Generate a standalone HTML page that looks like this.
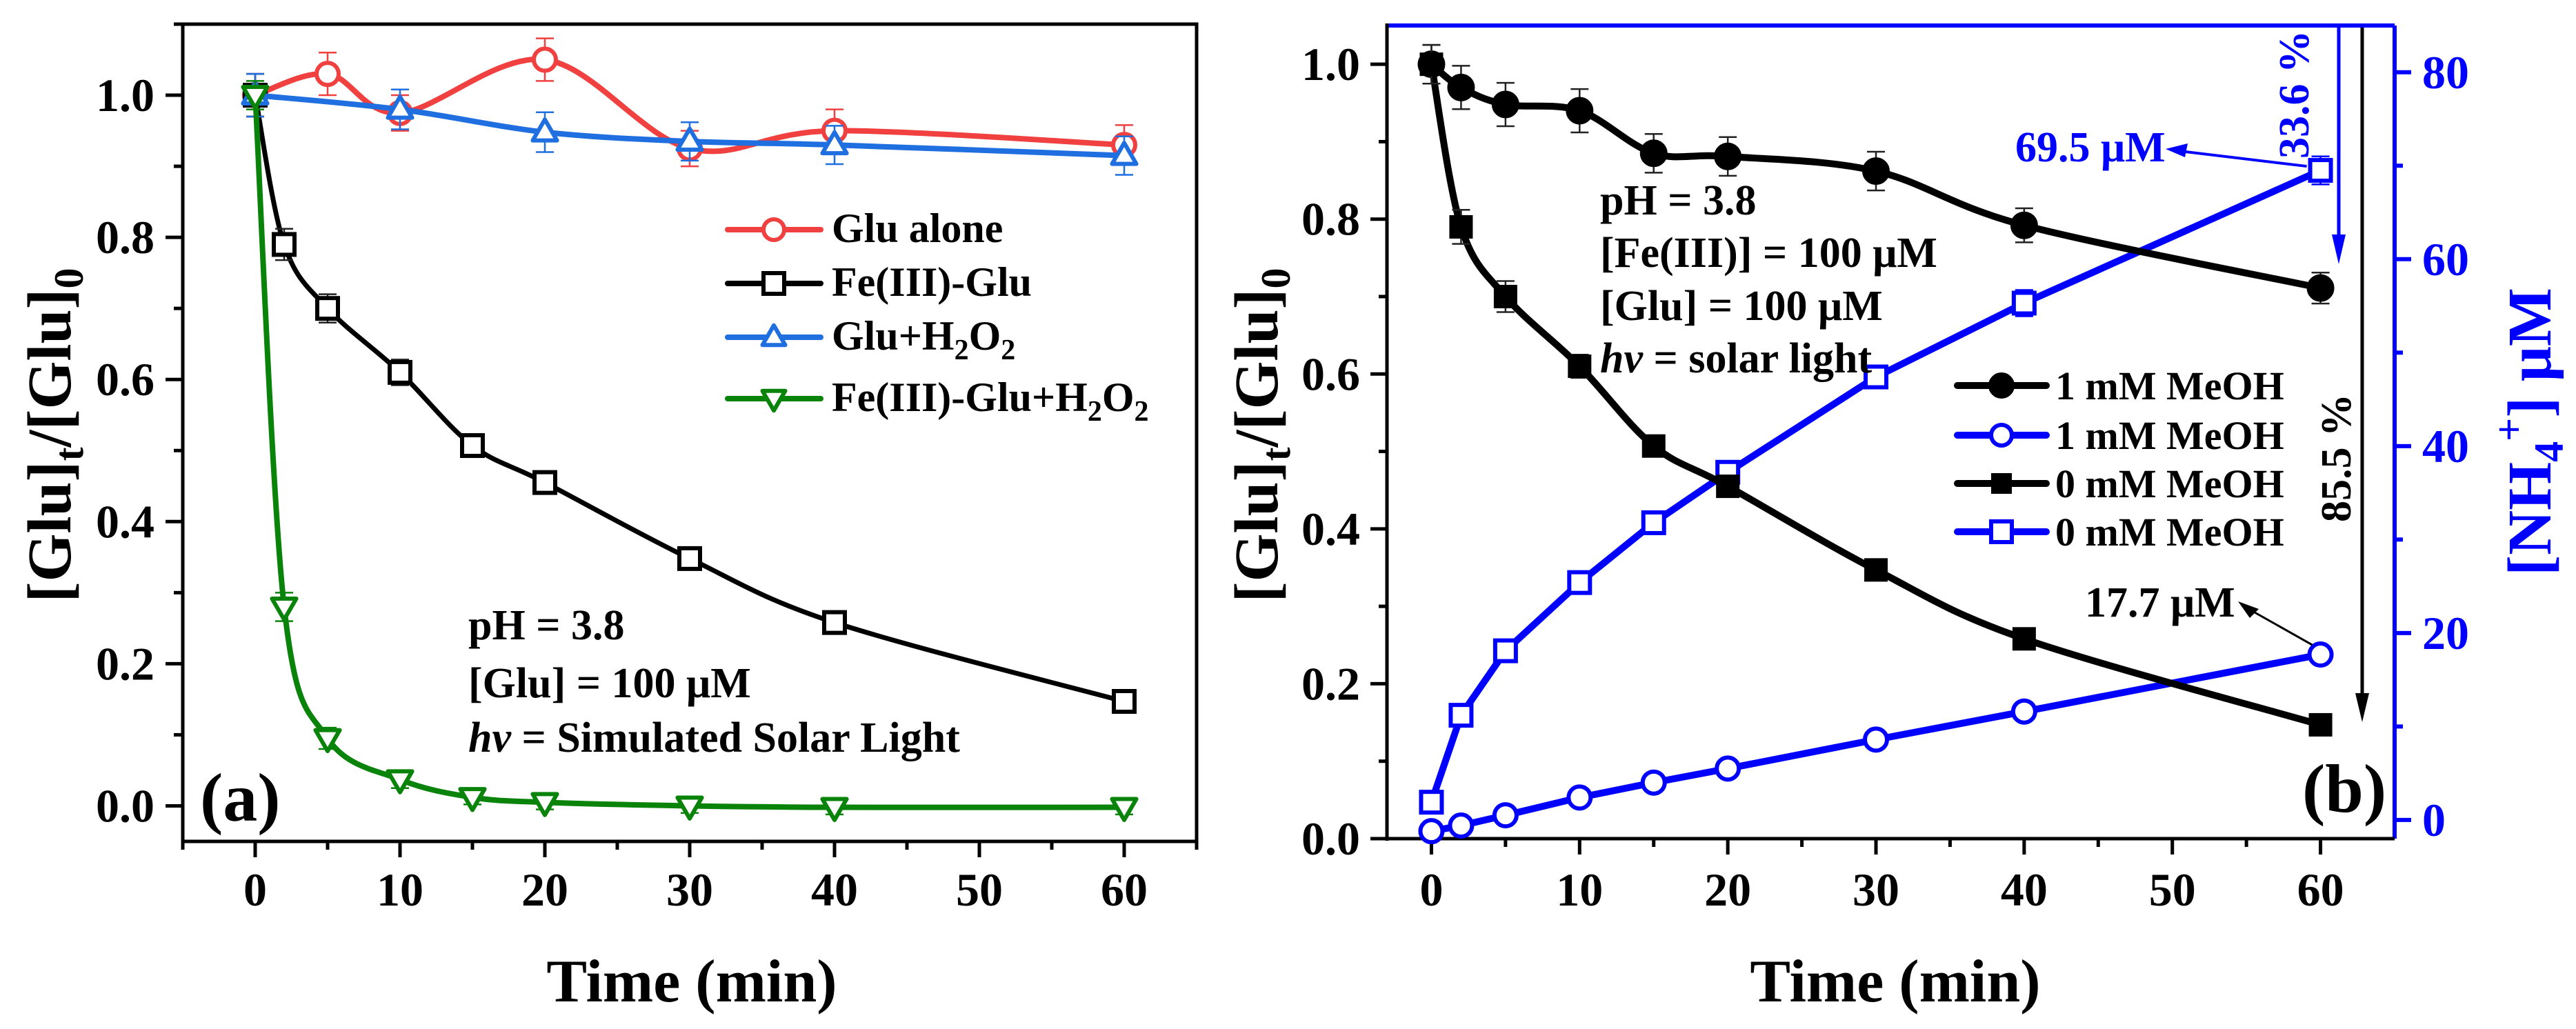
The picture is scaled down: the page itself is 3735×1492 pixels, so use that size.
<!DOCTYPE html>
<html><head><meta charset="utf-8">
<style>
html,body{margin:0;padding:0;background:#fff;}
svg{display:block;font-family:"Liberation Serif",serif;font-weight:bold;}
</style></head>
<body>
<svg id="fig" width="3735" height="1492" viewBox="0 0 3735 1492" xmlns="http://www.w3.org/2000/svg">
<rect width="3735" height="1492" fill="#fff"/>
<g id="pa"></g>
<g id="pb"></g>
</svg>
<script>
// ---------- Panel (a) data ----------
const timeRed = [0,5,10,20,30,40,60];
const gluAlone = [1.0,1.03,0.975,1.05,0.925,0.95,0.93];
const gluAloneErr = [0.03,0.03,0.025,0.03,0.025,0.03,0.028];
const timeFe = [0,2,5,10,15,20,30,40,60];
const feGlu = [1.0,0.79,0.70,0.61,0.507,0.455,0.348,0.258,0.147];
const feGluErr = [0.03,0.022,0.02,0.018,0.01,0.01,0.01,0.01,0.01];
const timeBlue = [0,10,20,30,40,60];
const gluH2O2 = [1.0,0.98,0.948,0.935,0.93,0.915];
const gluH2O2Err = [0.03,0.028,0.028,0.027,0.027,0.027];
const timeGreen = [0,2,5,10,15,20,30,40,60];
const feGluH2O2 = [1.0,0.28,0.095,0.037,0.012,0.005,0.0,-0.002,-0.002];
const feGluH2O2Err = [0.02,0.02,0.015,0.012,0.01,0.01,0.01,0.01,0.01];
const xTicksA = [0,10,20,30,40,50,60];
const yTicksA = [0.0,0.2,0.4,0.6,0.8,1.0];
// ---------- Panel (b) data ----------
const timeB = [0,2,5,10,15,20,30,40,60];
const glu1mM = [1.0,0.97,0.948,0.94,0.885,0.881,0.862,0.792,0.711];
const glu1mMErr = [0.025,0.028,0.028,0.028,0.025,0.025,0.025,0.022,0.02];
const glu0mM = [1.0,0.79,0.70,0.61,0.507,0.455,0.347,0.258,0.147];
const glu0mMErr = [0.025,0.022,0.02,0.015,0.01,0.01,0.01,0.01,0.01];
const nh4_1mM = [-1.2,-0.6,0.5,2.4,4.0,5.5,8.6,11.6,17.7];
const nh4_0mM = [1.9,11.2,18.1,25.4,31.8,37.2,47.4,55.3,69.5];
const nh4_0mMErr = [0.8,1,1,1,1,1,1.2,1.4,1.5];
const nh4_1mMErr = [0.8,0.8,0.8,0.8,0.8,0.8,0.8,0.8,0.8];
const xTicksB = [0,10,20,30,40,50,60];
const yTicksB = [0.0,0.2,0.4,0.6,0.8,1.0];
const yTicksR = [0,20,40,60,80];

const NS="http://www.w3.org/2000/svg";
function mk(parent,tag,attrs){const e=document.createElementNS(NS,tag);for(const k in attrs)e.setAttribute(k,attrs[k]);parent.appendChild(e);return e;}
function lin(d0,d1,r0,r1){return v=>r0+(v-d0)*(r1-r0)/(d1-d0);}
function smooth(pts){
  let d=`M${pts[0][0]},${pts[0][1]}`;
  for(let i=0;i<pts.length-1;i++){
    const p0=pts[Math.max(i-1,0)],p1=pts[i],p2=pts[i+1],p3=pts[Math.min(i+2,pts.length-1)];
    const c1=[p1[0]+(p2[0]-p0[0])/6,p1[1]+(p2[1]-p0[1])/6];
    const c2=[p2[0]-(p3[0]-p1[0])/6,p2[1]-(p3[1]-p1[1])/6];
    d+=` C${c1[0]},${c1[1]} ${c2[0]},${c2[1]} ${p2[0]},${p2[1]}`;
  }
  return d;
}
function straight(pts){return 'M'+pts.map(p=>p[0]+','+p[1]).join(' L');}
function marker(g,type,x,y,color,r){
  let e;
  if(type==='circle') e=mk(g,'circle',{cx:x,cy:y,r:r,fill:'#fff',stroke:color,'stroke-width':6});
  else if(type==='fcircle') e=mk(g,'circle',{cx:x,cy:y,r:r,fill:color,stroke:color,'stroke-width':2});
  else if(type==='square') e=mk(g,'rect',{x:x-r,y:y-r,width:2*r,height:2*r,fill:'#fff',stroke:color,'stroke-width':6});
  else if(type==='fsquare') e=mk(g,'rect',{x:x-r,y:y-r,width:2*r,height:2*r,fill:color});
  else if(type==='tri') e=mk(g,'polygon',{points:`${x},${y-r*1.15} ${x-r*1.1},${y+r*0.75} ${x+r*1.1},${y+r*0.75}`,fill:'#fff',stroke:color,'stroke-width':6,'stroke-linejoin':'round'});
  else if(type==='dtri') e=mk(g,'polygon',{points:`${x},${y+r*1.15} ${x-r*1.1},${y-r*0.75} ${x+r*1.1},${y-r*0.75}`,fill:'#fff',stroke:color,'stroke-width':6,'stroke-linejoin':'round'});
  
  
  return e;
}
function errbar(g,x,y1,y2,color){
  const e=mk(g,'path',{d:`M${x},${y1} V${y2} M${x-13},${y1} H${x+13} M${x-13},${y2} H${x+13}`,stroke:color,'stroke-width':2.5,fill:'none'});
  
  
}
function txt(g,x,y,s,size,attrs){const e=mk(g,'text',Object.assign({x:x,y:y,'font-size':size},attrs||{}));e.innerHTML=s;return e;}
function series(g,name,xs,ys,errs,X,Y,color,type,r,curve,lw){
  const sg=mk(g,'g',{});
  
  
  const pts=xs.map((t,i)=>[X(t),Y(ys[i])]);
  const ln=mk(sg,'path',{d:curve?smooth(pts):straight(pts),fill:'none',stroke:color,'stroke-width':lw,'stroke-linejoin':'round','stroke-linecap':'round'});
  
  
  xs.forEach((t,i)=>{ if(errs) errbar(sg,X(t),Y(ys[i]+errs[i]),Y(ys[i]-errs[i]),color==='#000'?'#222':color); });
  xs.forEach((t,i)=>marker(sg,type,X(t),Y(ys[i]),color,r));
  return sg;
}

// ================= Panel A =================
(function(){
  const g=document.getElementById('pa');
  const X=lin(-5,65,265,1735), Y=lin(-0.05,1.1,1220,35);
  // frame
  const fr=mk(g,'rect',{x:265,y:35,width:1470,height:1185,fill:'none',stroke:'#000','stroke-width':5});
  
  
  // y ticks
  yTicksA.forEach(v=>{
    mk(g,'line',{x1:240,x2:265,y1:Y(v),y2:Y(v),stroke:'#000','stroke-width':5});
    const t=txt(g,224,Y(v)+23,v.toFixed(1),68,{'text-anchor':'end'});
    
    
  });
  for(let v=0.1;v<1.1;v+=0.2) mk(g,'line',{x1:252,x2:265,y1:Y(v),y2:Y(v),stroke:'#000','stroke-width':5});
  xTicksA.forEach(v=>{
    mk(g,'line',{x1:X(v),x2:X(v),y1:1220,y2:1243,stroke:'#000','stroke-width':5});
    const t=txt(g,X(v),1313,String(v),68,{'text-anchor':'middle'});
    
    
  });
  [-5,5,15,25,35,45,55,65].forEach(v=>mk(g,'line',{x1:X(v),x2:X(v),y1:1220,y2:1232,stroke:'#000','stroke-width':5}));
  // titles
  const xt=txt(g,1003,1452,'Time (min)',88,{'text-anchor':'middle'});
  
  
  const yt=txt(g,0,0,'[Glu]<tspan font-size="60" dy="18">t</tspan><tspan dy="-18">/[Glu]</tspan><tspan font-size="60" dy="18">0</tspan>',90,{'text-anchor':'middle',transform:'translate(102,631) rotate(-90)'});
  
  
  // series
  series(g,'series-glu-alone',timeRed,gluAlone,gluAloneErr,X,Y,'#f04040','circle',16,true,8);
  series(g,'series-fe-glu',timeFe,feGlu,feGluErr,X,Y,'#000','square',15,true,7);
  series(g,'series-glu-h2o2',timeBlue,gluH2O2,gluH2O2Err,X,Y,'#1f6fe0','tri',16,true,8);
  series(g,'series-fe-glu-h2o2',timeGreen,feGluH2O2,feGluH2O2Err,X,Y,'#0a830a','dtri',16,true,8);
  // legend
  const lg=mk(g,'g',{});
  
  
  const leg=[['Glu alone','#f04040','circle',333],['Fe(III)-Glu','#000','square',411],
    ['Glu+H<tspan font-size="42" dy="14">2</tspan><tspan dy="-14">O</tspan><tspan font-size="42" dy="14">2</tspan>','#1f6fe0','tri',489],
    ['Fe(III)-Glu+H<tspan font-size="42" dy="14">2</tspan><tspan dy="-14">O</tspan><tspan font-size="42" dy="14">2</tspan>','#0a830a','dtri',578]];
  leg.forEach(l=>{
    const eg=mk(lg,'g',{});
    
    
    mk(eg,'line',{x1:1055,x2:1190,y1:l[3],y2:l[3],stroke:l[1],'stroke-width':8,'stroke-linecap':'round'});
    marker(eg,l[2],1122,l[3],l[1],15);
    txt(eg,1206,l[3]+18,l[0],60,{});
  });
  const an=mk(g,'g',{});
  
  
  txt(an,679,927,'pH = 3.8',62,{});
  txt(an,679,1011,'[Glu] = 100 μM',62,{});
  txt(an,679,1090,'<tspan font-style="italic">hv</tspan> = Simulated Solar Light',62,{});
  const pl=txt(g,290,1190,'(a)',100,{});
  
  
})();

// ================= Panel B =================
(function(){
  const g=document.getElementById('pb');
  const L=2011,R=3472,T=37,B=1216;
  const X=lin(-3,65,L,R), Y=lin(0,1.05,B,T), Y2=lin(-2,85,B,T);
  // axes
  const ax=mk(g,'g',{});
  
  
  mk(ax,'line',{x1:L,x2:R,y1:T,y2:T,stroke:'#0000ff','stroke-width':6});
  mk(ax,'line',{x1:R,x2:R,y1:T,y2:B,stroke:'#0000ff','stroke-width':6});
  mk(ax,'line',{x1:L,x2:L,y1:T-3,y2:B+3,stroke:'#000','stroke-width':5});
  mk(ax,'line',{x1:L,x2:R,y1:B,y2:B,stroke:'#000','stroke-width':5});
  yTicksB.forEach(v=>{
    mk(ax,'line',{x1:L-24,x2:L,y1:Y(v),y2:Y(v),stroke:'#000','stroke-width':5});
    const t=txt(ax,1972,Y(v)+23,v.toFixed(1),68,{'text-anchor':'end'});
    
    
  });
  for(let v=0.1;v<1.05;v+=0.2) mk(ax,'line',{x1:L-12,x2:L,y1:Y(v),y2:Y(v),stroke:'#000','stroke-width':5});
  xTicksB.forEach(v=>{
    mk(ax,'line',{x1:X(v),x2:X(v),y1:B,y2:B+23,stroke:'#000','stroke-width':5});
    const t=txt(ax,X(v),1313,String(v),68,{'text-anchor':'middle'});
    
    
  });
  [5,15,25,35,45,55].forEach(v=>mk(ax,'line',{x1:X(v),x2:X(v),y1:B,y2:B+12,stroke:'#000','stroke-width':5}));
  yTicksR.forEach(v=>{
    mk(ax,'line',{x1:R,x2:R+24,y1:Y2(v),y2:Y2(v),stroke:'#0000ff','stroke-width':6});
    const t=txt(ax,3512,Y2(v)+23,String(v),68,{fill:'#0000ff'});
    
    
  });
  [10,30,50,70].forEach(v=>mk(ax,'line',{x1:R,x2:R+12,y1:Y2(v),y2:Y2(v),stroke:'#0000ff','stroke-width':6}));
  const xt=txt(g,2748,1452,'Time (min)',88,{'text-anchor':'middle'});
  
  
  const yt=txt(g,0,0,'[Glu]<tspan font-size="60" dy="18">t</tspan><tspan dy="-18">/[Glu]</tspan><tspan font-size="60" dy="18">0</tspan>',90,{'text-anchor':'middle',transform:'translate(1852,631) rotate(-90)'});
  
  
  const rt=txt(g,0,0,'[NH<tspan font-size="60" dy="18">4</tspan><tspan font-size="60" dy="-58">+</tspan><tspan dy="40">] μM</tspan>',90,{'text-anchor':'middle',fill:'#0000ff',transform:'translate(3698,626) rotate(-90)'});
  
  
  // series
  series(g,'series-nh4-1mM-meoh',timeB,nh4_1mM,nh4_1mMErr,X,Y2,'#0000ff','circle',16,false,10);
  series(g,'series-nh4-0mM-meoh',timeB,nh4_0mM,nh4_0mMErr,X,Y2,'#0000ff','square',15,false,10);
  series(g,'series-glu-1mM-meoh',timeB,glu1mM,glu1mMErr,X,Y,'#000','fcircle',19,true,10);
  series(g,'series-glu-0mM-meoh',timeB,glu0mM,glu0mMErr,X,Y,'#000','fsquare',17,true,10);
  // annotations
  const an=mk(g,'g',{});
  
  
  txt(an,2320,311,'pH = 3.8',62,{});
  txt(an,2320,387,'[Fe(III)] = 100 μM',62,{});
  txt(an,2320,464,'[Glu] = 100 μM',62,{});
  txt(an,2320,540,'<tspan font-style="italic">hv</tspan> = solar light',62,{});
  // legend
  const lg=mk(g,'g',{});
  
  
  [['1 mM MeOH','#000','fcircle',559],['1 mM MeOH','#0000ff','circle',631],['0 mM MeOH','#000','fsquare',701],['0 mM MeOH','#0000ff','square',771]].forEach(l=>{
    const eg=mk(lg,'g',{});
    
    
    mk(eg,'line',{x1:2838,x2:2967,y1:l[3],y2:l[3],stroke:l[1],'stroke-width':10,'stroke-linecap':'round'});
    marker(eg,l[2],2902,l[3],l[1],l[2]==='fcircle'?18:15);
    txt(eg,2980,l[3]+20,l[0],58,{});
  });
  // arrows & labels
  const ar=mk(g,'g',{});
  
  
  mk(ar,'line',{x1:X(60)-20,y1:Y2(69.5)-6,x2:3160,y2:219,stroke:'#0000ff','stroke-width':4});
  mk(ar,'polygon',{points:'3140,216 3172,208 3168,228',fill:'#0000ff'});
  txt(ar,2922,234,'69.5 μM',62,{fill:'#0000ff'});
  mk(ar,'line',{x1:X(60)-12,y1:Y2(17.7)-14,x2:3255,y2:880,stroke:'#000','stroke-width':3});
  mk(ar,'polygon',{points:'3245,872 3275,883 3262,896',fill:'#000'});
  txt(ar,3023,894,'17.7 μM',62,{});
  mk(ar,'line',{x1:3391,x2:3391,y1:T,y2:345,stroke:'#0000ff','stroke-width':5});
  mk(ar,'polygon',{points:'3381,340 3401,340 3391,383',fill:'#0000ff'});
  mk(ar,'line',{x1:3425,x2:3425,y1:T+3,y2:1010,stroke:'#000','stroke-width':5});
  mk(ar,'polygon',{points:'3415,1005 3435,1005 3425,1047',fill:'#000'});
  txt(ar,0,0,'33.6 %',62,{'text-anchor':'middle',fill:'#0000ff',transform:'translate(3347,137) rotate(-90)'});
  txt(ar,0,0,'85.5 %',62,{'text-anchor':'middle',transform:'translate(3408,664) rotate(-90)'});
  const pl=txt(g,3338,1177,'(b)',100,{});
  
  
})();
</script>
</body></html>
